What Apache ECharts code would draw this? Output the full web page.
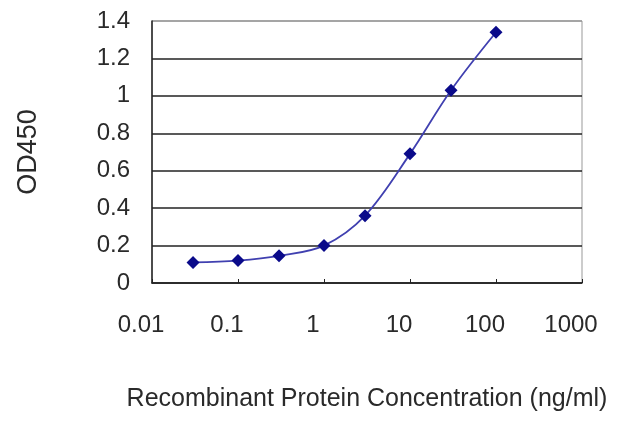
<!DOCTYPE html>
<html><head><meta charset="utf-8">
<script src="https://cdn.jsdelivr.net/npm/echarts@6/dist/echarts.min.js"></script>
<style>html,body{margin:0;padding:0;background:#fff}#c{width:640px;height:427px}</style>
</head><body><div id="c"></div>
<script>
const concentrations = [0.03, 0.1, 0.3, 1, 3, 10, 30, 100];
const od450 = [0.11, 0.12, 0.145, 0.20, 0.36, 0.69, 1.03, 1.34];
const xTickLabels = ['0.01', '0.1', '1', '10', '100', '1000'];
const yTickLabels = ['0', '0.2', '0.4', '0.6', '0.8', '1', '1.2', '1.4'];

const chart = echarts.init(document.getElementById('c'), null, {renderer: 'canvas'});
const font = 'Liberation Sans, Arial, sans-serif';
chart.setOption({
  animation: false,
  grid: {left: 152, top: 21, right: 58, bottom: 144, show: true, borderColor: '#999', borderWidth: 1},
  xAxis: {
    type: 'log', logBase: 10, min: 0.01, max: 1000,
    name: 'Recombinant Protein Concentration (ng/ml)',
    nameLocation: 'middle', nameGap: 104,
    nameTextStyle: {fontFamily: font, fontSize: 25, color: '#2a2a2a'},
    axisLine: {show: true, lineStyle: {color: '#222', width: 1.5}},
    axisTick: {show: true, inside: true, length: 4, lineStyle: {color: '#222'}},
    splitLine: {show: false},
    minorTick: {show: false},
    axisLabel: {
      fontFamily: font, fontSize: 24, color: '#2a2a2a', margin: 30,
      padding: [0, 22, 0, 0],
      formatter: function (v) {
        const i = Math.round(Math.log10(v)) + 2;
        return xTickLabels[i] !== undefined ? xTickLabels[i] : '';
      }
    }
  },
  yAxis: {
    type: 'value', min: 0, max: 1.4, interval: 0.2,
    name: 'OD450', nameLocation: 'middle', nameGap: 110, nameRotate: 90,
    nameTextStyle: {fontFamily: font, fontSize: 27, color: '#2a2a2a'},
    axisLine: {show: true, lineStyle: {color: '#222', width: 1.5}},
    axisTick: {show: false},
    splitLine: {show: true, lineStyle: {color: ['#222','#222','#222','#222','#222','#222','#222','#999'], width: 1.5}},
    axisLabel: {
      fontFamily: font, fontSize: 24, color: '#2a2a2a', margin: 22,
      formatter: function (v) { return yTickLabels[Math.round(v / 0.2)]; }
    }
  },
  series: [{
    type: 'line',
    data: concentrations.map((c, i) => [c, od450[i]]),
    smooth: 0.35,
    symbol: 'diamond', symbolSize: 13,
    itemStyle: {color: '#0a0a8a'},
    lineStyle: {color: '#4040b0', width: 1.8}
  }]
});
</script></body></html>
